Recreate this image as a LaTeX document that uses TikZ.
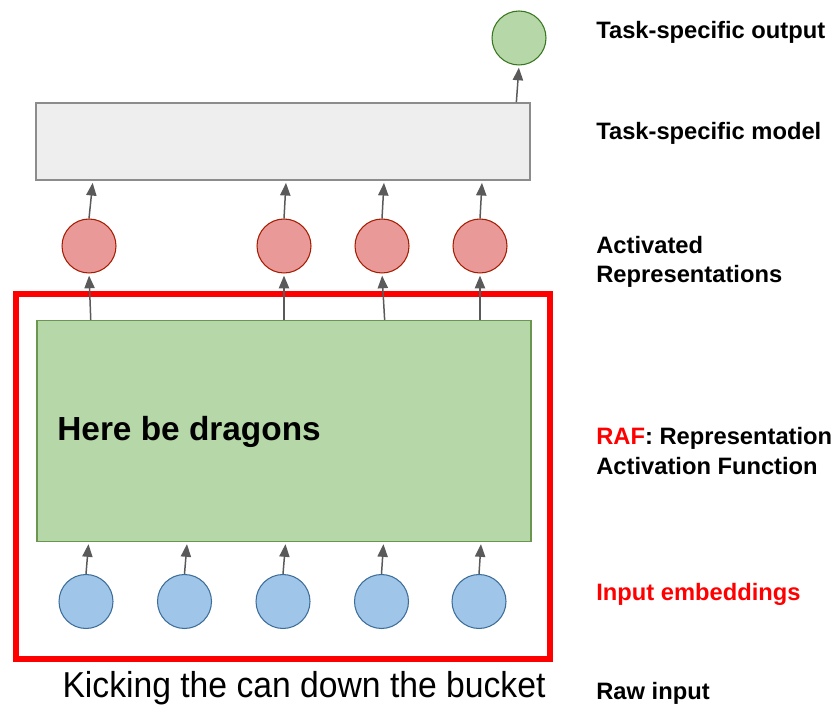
\documentclass[tikz,border=0pt]{standalone}
\usepackage{fontspec}
\setmainfont{Liberation Sans}
\usetikzlibrary{arrows.meta, positioning}
\definecolor{cOut}{RGB}{182,215,168}
\definecolor{cOutLine}{RGB}{56,118,29}
\definecolor{cModel}{RGB}{238,238,238}
\definecolor{cModelLine}{RGB}{140,140,140}
\definecolor{cAct}{RGB}{234,153,153}
\definecolor{cActLine}{RGB}{166,28,0}
\definecolor{cEmb}{RGB}{159,197,232}
\definecolor{cEmbLine}{RGB}{61,109,153}
\definecolor{cDragon}{RGB}{182,215,168}
\definecolor{cDragonLine}{RGB}{106,150,80}
\definecolor{cRaf}{RGB}{255,0,0}
\definecolor{cArrow}{RGB}{90,90,90}
\tikzset{
  basecircle/.style={circle, minimum size=1.08cm, inner sep=0pt, line width=0.6pt},
  outcircle/.style={basecircle, fill=cOut, draw=cOutLine},
  actcircle/.style={basecircle, fill=cAct, draw=cActLine},
  embcircle/.style={basecircle, fill=cEmb, draw=cEmbLine},
  modelbox/.style={rectangle, fill=cModel, draw=cModelLine, line width=0.9pt,
                   minimum width=9.88cm, minimum height=1.54cm, inner sep=0pt},
  dragonbox/.style={rectangle, fill=cDragon, draw=cDragonLine, line width=0.7pt,
                    minimum width=9.88cm, minimum height=4.42cm, inner sep=0pt},
  rafframe/.style={rectangle, draw=cRaf, line width=3.4pt,
                   minimum width=10.68cm, minimum height=7.3cm, inner sep=0pt},
  uparrow/.style={-{Triangle[length=7.2pt, width=5.8pt]}, line width=0.85pt,
                  color=cArrow, shorten >=1.2pt},
  sidelabel/.style={anchor=west, align=left, inner sep=0pt,
                    font=\fontsize{13.5}{16.6}\selectfont\bfseries}
}

\begin{document}
\begin{tikzpicture}[x=0.02cm, y=-0.02cm]

  \useasboundingbox (0,0) rectangle (835,705);

  % RAF frame and dragons box
  \node[rafframe] (raf) at (283,476.5) {};
  \node[dragonbox] (dragons) at (284,431) {};
  \node[anchor=west, inner sep=0pt, font=\fontsize{19}{22}\selectfont\bfseries]
      (dragontxt) at (57,432) {Here be dragons};

  % Task-specific model and output
  \node[modelbox] (model) at (283,141.5) {};
  \node[outcircle] (out) at (519,38) {};

  % Activated representations
  \node[actcircle] (r1) at (89,246) {};
  \node[actcircle] (r2) at (284,246) {};
  \node[actcircle] (r3) at (382,246) {};
  \node[actcircle] (r4) at (480,246) {};

  % Input embeddings
  \node[embcircle] (e1) at (86,601.5) {};
  \node[embcircle] (e2) at (184.5,601.5) {};
  \node[embcircle] (e3) at (283,601.5) {};
  \node[embcircle] (e4) at (381.5,601.5) {};
  \node[embcircle] (e5) at (479,601.5) {};

  % Raw input text
  \node[inner sep=0pt, font=\fontsize{20.5}{22}\selectfont]
      (raw) at (304,688) {\scalebox{0.935}[1]{Kicking the can down the bucket}};

  % Arrows
  \draw[uparrow] (e1.north) -- ([xshift=1.5pt]e1.north |- dragons.south);
  \draw[uparrow] (e2.north) -- ([xshift=1.5pt]e2.north |- dragons.south);
  \draw[uparrow] (e3.north) -- ([xshift=1.5pt]e3.north |- dragons.south);
  \draw[uparrow] (e4.north) -- ([xshift=1.2pt]e4.north |- dragons.south);
  \draw[uparrow] (e5.north) -- ([xshift=1.2pt]e5.north |- dragons.south);
  \draw[uparrow] ([xshift=1pt]r1.south |- dragons.north) -- (r1.south);
  \draw[uparrow] (r2.south |- dragons.north) -- (r2.south);
  \draw[uparrow] ([xshift=1.5pt]r3.south |- dragons.north) -- (r3.south);
  \draw[uparrow] (r4.south |- dragons.north) -- (r4.south);
  \draw[uparrow] (r1.north) -- ([xshift=2.2pt]r1.north |- model.south);
  \draw[uparrow] (r2.north) -- ([xshift=1.2pt]r2.north |- model.south);
  \draw[uparrow] (r3.north) -- ([xshift=1.2pt]r3.north |- model.south);
  \draw[uparrow] (r4.north) -- ([xshift=1.2pt]r4.north |- model.south);
  \draw[uparrow] ([xshift=-1.5pt]out.south |- model.north) -- (out.south);

  % Side labels
  \node[sidelabel] (lout) at (596,32) {Task-specific output};
  \node[sidelabel] (lmodel) at (596,133) {Task-specific model};
  \node[sidelabel] (lact) at (596,261.5) {Activated\\Representations};
  \node[sidelabel] (lraf) at (596,451) {\textcolor{cRaf}{RAF}: Representation\\Activation Function};
  \node[sidelabel, text=cRaf] (lemb) at (596,594) {Input embeddings};
  \node[sidelabel] (lraw) at (596,693) {Raw input};

\end{tikzpicture}
\end{document}
